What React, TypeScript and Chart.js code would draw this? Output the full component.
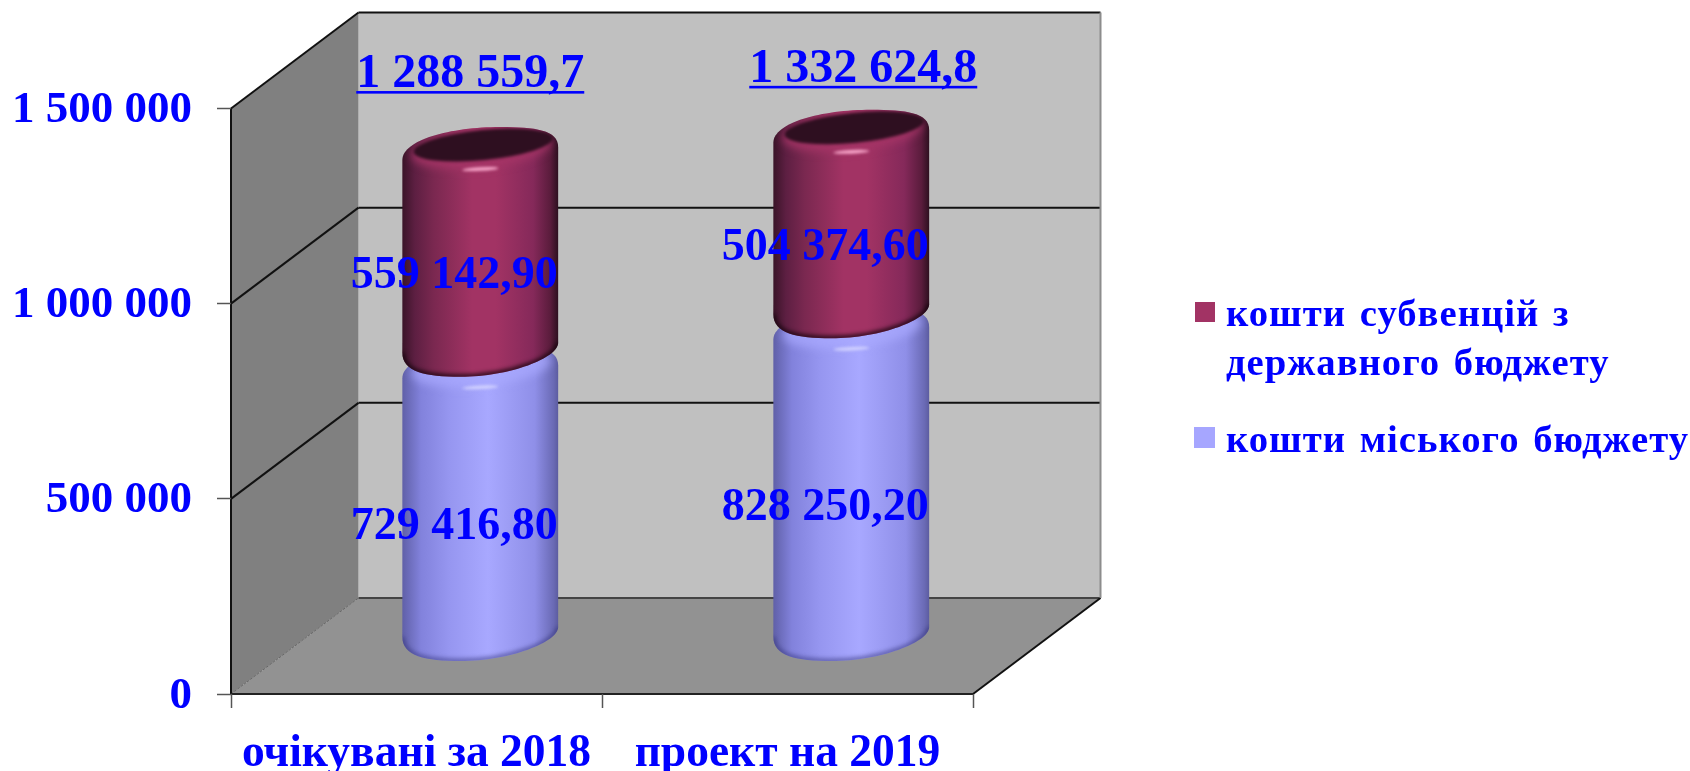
import React, { useEffect, useRef } from "react";
import { Chart, registerables } from "chart.js";

Chart.register(...registerables);

const categories = ["очікувані за 2018", "проект на 2019"];
const cityBudget = [729416.8, 828250.2];
const subventions = [559142.9, 504374.6];
const totals = [1288559.7, 1332624.8];
const yTicks = [0, 500000, 1000000, 1500000];
const cityName = "кошти міського бюджету";
const subventionName = "кошти субвенцій з державного бюджету";
const subventionNameLines = ["кошти субвенцій з", "державного бюджету"];

const BLUE = "#0000ff";
const SERIF = '"Liberation Serif"';
const DEPTH_X = 127.5;
const DEPTH_Y = -96;

const spaced = (n: number, decimals: number) => {
  const [a, b] = n.toFixed(decimals).split(".");
  return a.replace(/\B(?=(\d{3})+(?!\d))/g, " ") + (b ? "," + b : "");
};

const line = (c: CanvasRenderingContext2D, x1: number, y1: number, x2: number, y2: number, color: string, w: number) => {
  c.strokeStyle = color;
  c.lineWidth = w;
  c.beginPath();
  c.moveTo(x1, y1);
  c.lineTo(x2, y2);
  c.stroke();
};

const walls = {
  id: "walls",
  beforeDraw(chart: any) {
    const c = chart.ctx as CanvasRenderingContext2D;
    const { left, right, top, bottom } = chart.chartArea;
    c.save();
    c.fillStyle = "#c0c0c0";
    c.fillRect(left + DEPTH_X, top + DEPTH_Y, right - left, bottom - top);
    c.fillStyle = "#808080";
    c.beginPath();
    c.moveTo(left, top);
    c.lineTo(left + DEPTH_X, top + DEPTH_Y);
    c.lineTo(left + DEPTH_X, bottom + DEPTH_Y);
    c.lineTo(left, bottom);
    c.closePath();
    c.fill();
    c.fillStyle = "#929292";
    c.beginPath();
    c.moveTo(left, bottom);
    c.lineTo(left + DEPTH_X, bottom + DEPTH_Y);
    c.lineTo(right + DEPTH_X, bottom + DEPTH_Y);
    c.lineTo(right, bottom);
    c.closePath();
    c.fill();
    const yS = chart.scales.y;
    for (const t of yS.ticks) {
      const y = yS.getPixelForValue(t.value);
      if (t.value === 0) continue;
      line(c, left, y, left + DEPTH_X, y + DEPTH_Y, "#111", 2);
      line(c, left + DEPTH_X, y + DEPTH_Y, right + DEPTH_X, y + DEPTH_Y, "#111", 2);
    }
    line(c, left + DEPTH_X, bottom + DEPTH_Y, right + DEPTH_X, bottom + DEPTH_Y, "#444", 2);
    c.setLineDash([3, 1]);
    line(c, left, bottom, left + DEPTH_X, bottom + DEPTH_Y, "#666", 1);
    c.setLineDash([]);
    line(c, right, bottom, right + DEPTH_X, bottom + DEPTH_Y, "#111", 2);
    line(c, right + DEPTH_X, top + DEPTH_Y, right + DEPTH_X, bottom + DEPTH_Y, "#8c8c8c", 2);
    line(c, left, top, left, bottom, "#111", 2);
    line(c, left, bottom, right, bottom, "#222", 2.2);
    c.restore();
  },
};

const palette = [
  {
    stops: [[0, "#6060a8"], [0.12, "#8282dc"], [0.3, "#9696f0"], [0.55, "#a8a8ff"], [0.85, "#8f8fe8"], [0.97, "#6a6ab5"], [1, "#5c5ca0"]],
    flat: "#a6a6ff",
    shade: "rgba(50,50,120,0.55)",
    glow: "rgba(170,170,255,0.7)",
    hi: "rgba(215,215,255,0.9)",
  },
  {
    stops: [[0, "#3a1428"], [0.08, "#5d1f42"], [0.2, "#7a2850"], [0.45, "#a23364"], [0.6, "#a23364"], [0.84, "#85295a"], [0.95, "#5a1c3c"], [1, "#2e1020"]],
    flat: "#a23364",
    shade: "rgba(25,5,15,0.85)",
    glow: "rgba(165,52,102,0.9)",
    hi: "rgba(255,175,210,0.95)",
  },
];

const outline = (c: CanvasRenderingContext2D, cx: number, x0: number, x1: number, yt: number, yb: number) => {
  c.beginPath();
  c.moveTo(x0, yt + 17);
  c.bezierCurveTo(x0, yt - 3, cx - 30, yt - 16, cx + 20, yt - 16);
  c.bezierCurveTo(cx + 55, yt - 16, x1, yt - 13, x1, yt + 4);
  c.lineTo(x1, yb - 18.5);
  c.bezierCurveTo(x1, yb - 3.5, cx + 30, yb + 15.5, cx - 20, yb + 15.5);
  c.bezierCurveTo(cx - 55, yb + 15.5, x0, yb + 10.5, x0, yb - 8.5);
  c.closePath();
};

const cylinder = (c: CanvasRenderingContext2D, el: any, style: any, capped: boolean) => {
  const cx = el.x + DEPTH_X / 2;
  const half = el.width / 2;
  const x0 = cx - half;
  const x1 = cx + half;
  const yt = el.y + DEPTH_Y / 2;
  const yb = el.base + DEPTH_Y / 2;
  c.save();
  outline(c, cx, x0, x1, yt, yb);
  const g = c.createLinearGradient(x0, 0, x1, 0);
  style.stops.forEach(([p, col]: any) => g.addColorStop(p, col));
  c.fillStyle = g;
  c.fill();
  c.clip();
  // bottom shading
  c.filter = "blur(2px)";
  c.strokeStyle = style.shade;
  c.lineWidth = 5;
  c.beginPath();
  c.moveTo(x1, yb - 18.5);
  c.bezierCurveTo(x1, yb - 3.5, cx + 30, yb + 15.5, cx - 20, yb + 15.5);
  c.bezierCurveTo(cx - 55, yb + 15.5, x0, yb + 10.5, x0, yb - 8.5);
  c.stroke();
  // top bevel
  c.filter = "blur(4px)";
  c.fillStyle = style.glow;
  c.beginPath();
  c.ellipse(cx + 1, yt + 6, 70, 19, -0.1, 0, Math.PI * 2);
  c.fill();
  c.filter = "blur(1.5px)";
  c.fillStyle = style.hi;
  c.beginPath();
  c.ellipse(cx, yt + 26, 18, 1.8, -0.05, 0, Math.PI * 2);
  c.fill();
  if (capped) {
    c.filter = "blur(1.5px)";
    c.fillStyle = "#2e0f20";
    c.beginPath();
    c.ellipse(cx + 3, yt + 2, 70, 15, -0.1, 0, Math.PI * 2);
    c.fill();
  }
  c.restore();
};

const cylinders = {
  id: "cylinders",
  beforeDatasetsDraw(chart: any) {
    const c = chart.ctx as CanvasRenderingContext2D;
    const n = chart.data.datasets.length;
    // stack order, bottom first, so each upper segment overlaps the one below
    for (let i = 0; i < n; i++) {
      chart.getDatasetMeta(i).data.forEach((el: any) => cylinder(c, el, palette[i], i === n - 1));
    }
  },
  beforeDatasetDraw() {
    return false;
  },
};

const labels = {
  id: "labels",
  afterDatasetsDraw(chart: any) {
    const c = chart.ctx as CanvasRenderingContext2D;
    c.save();
    c.fillStyle = BLUE;
    c.textAlign = "center";
    c.textBaseline = "middle";
    c.font = `bold 46px ${SERIF}`;
    chart.data.datasets.forEach((ds: any, i: number) => {
      chart.getDatasetMeta(i).data.forEach((el: any, j: number) => {
        const mid = (el.y + el.base) / 2 + DEPTH_Y / 2;
        c.fillText(spaced(ds.data[j], 2), el.x + DEPTH_X / 2 - 26, mid + 24);
      });
    });
    // totals, placed by hand in the source slide
    const top = chart.getDatasetMeta(chart.data.datasets.length - 1).data;
    const shiftX = [-10, 12];
    const shiftY = [-56, -44];
    c.font = `bold 48px ${SERIF}`;
    c.textBaseline = "alphabetic";
    totals.forEach((v, j) => {
      const s = spaced(v, 1);
      const x = top[j].x + DEPTH_X / 2 + shiftX[j];
      const y = top[j].y + DEPTH_Y / 2 + shiftY[j];
      c.fillText(s, x, y);
      const w = c.measureText(s).width;
      c.fillRect(x - w / 2, y + 4, w, 2.6);
    });
    // legend
    c.textAlign = "left";
    c.font = `bold 38.7px ${SERIF}`;
    (c as any).letterSpacing = "1px";
    (c as any).wordSpacing = "3px";
    c.fillStyle = palette[1].flat;
    c.fillRect(1195, 302, 20, 20);
    c.fillStyle = BLUE;
    c.fillText(subventionNameLines[0], 1226, 326);
    c.fillText(subventionNameLines[1], 1226, 375);
    c.fillStyle = palette[0].flat;
    c.fillRect(1194, 427, 21, 21);
    c.fillStyle = BLUE;
    c.fillText(cityName, 1226, 452);
    c.restore();
  },
};

export default function App() {
  const ref = useRef<HTMLCanvasElement>(null);
  useEffect(() => {
    document.body.style.margin = "0";
    const chart = new Chart(ref.current!, {
      type: "bar",
      data: {
        labels: categories,
        datasets: [
          { label: cityName, data: cityBudget, backgroundColor: "#a6a6ff", barPercentage: 0.42, categoryPercentage: 1 },
          { label: subventionName, data: subventions, backgroundColor: "#a23364", barPercentage: 0.42, categoryPercentage: 1 },
        ],
      },
      options: {
        responsive: false,
        animation: false,
        devicePixelRatio: 1,
        layout: { padding: { top: 108.5, right: 717, left: 0, bottom: 0 } },
        plugins: { legend: { display: false }, tooltip: { enabled: false } },
        scales: {
          x: {
            stacked: true,
            afterFit: (s: any) => { s.height = 77; },
            border: { display: false },
            grid: { drawOnChartArea: false, tickLength: 14, color: "#555", tickWidth: 1.5, offset: true },
            ticks: { color: BLUE, font: { family: "Liberation Serif", size: 45.5, weight: "bold" }, padding: 19, maxRotation: 0, autoSkip: false },
          },
          y: {
            stacked: true,
            min: 0,
            max: 1500000,
            afterFit: (s: any) => { s.width = 231; },
            afterBuildTicks: (s: any) => { s.ticks = yTicks.map((value) => ({ value })); },
            border: { display: false },
            grid: { drawOnChartArea: false, tickLength: 14, color: "#555", tickWidth: 1.5 },
            ticks: {
              color: BLUE,
              font: { family: "Liberation Serif", size: 45, weight: "bold" },
              padding: 25,
              labelOffset: 2,
              callback: (v: any) => spaced(Number(v), 0),
            },
          },
        },
      },
      plugins: [walls, cylinders, labels],
    } as any);
    return () => chart.destroy();
  }, []);
  return <canvas ref={ref} width={1690} height={771} style={{ display: "block", filter: "blur(0.4px)" }} />;
}
